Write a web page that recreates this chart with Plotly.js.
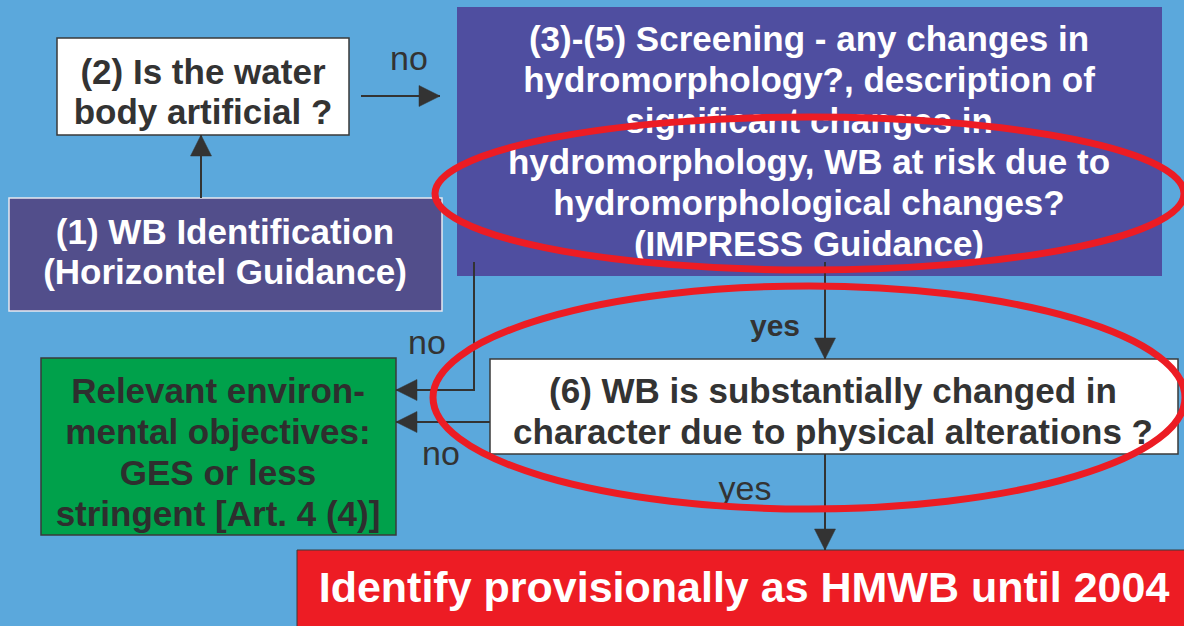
<!DOCTYPE html>
<html><head><meta charset="utf-8">
<script src="https://cdn.plot.ly/plotly-3.0.1.min.js"></script>
<style>html,body{margin:0;padding:0;background:#5BA8DC;overflow:hidden}#chart{width:1184px;height:626px}</style>
</head><body><div id="chart"></div>
<script>
// ---- content of the flowchart ----
const boxIds = ['q2', 'b1', 's35', 'q6', 'env', 'hmwb'];
const boxLines = [
  ['(2) Is the water', 'body artificial ?'],
  ['(1) WB Identification', '(Horizontel Guidance)'],
  ['(3)-(5) Screening - any changes in', 'hydromorphology?, description of', 'significant changes in',
   'hydromorphology, WB at risk due to', 'hydromorphological changes?', '(IMPRESS Guidance)'],
  ['(6) WB is substantially changed in', 'character due to physical alterations ?'],
  ['Relevant environ-', 'mental objectives:', 'GES or less', 'stringent [Art. 4 (4)]'],
  ['Identify provisionally as HMWB until 2004']
];
const edgeFrom = ['b1', 'q2', 's35', 's35', 'q6', 'q6'];
const edgeTo = ['q2', 's35', 'env', 'q6', 'env', 'hmwb'];
const edgeLabels = ['', 'no', 'no', 'yes', 'no', 'yes'];
const highlighted = ['s35', 'q6'];

// ---- layout geometry & styles (pixel space of the 1184x626 canvas) ----
const FONT = 'Liberation Sans, Arial, Helvetica, sans-serif';
const DARK = '#333333';
const boxGeom = {
  q2:   {x0: 57,  x1: 349,  y0: 38,  y1: 135, fill: '#FFFFFF', line: '#3A3A3A', lw: 1.5, txt: DARK,   size: 35, gap: 40, cx: 203, cy: 95},
  b1:   {x0: 9,   x1: 442,  y0: 198, y1: 311, fill: '#524E8B', line: '#E8E8F0', lw: 1.5, txt: '#FFFFFF', size: 35, gap: 40, cx: 225, cy: 255},
  s35:  {x0: 457, x1: 1162, y0: 7,   y1: 276, fill: '#4F4EA0', line: '#4F4EA0', lw: 0,   txt: '#FFFFFF', size: 35, gap: 41, cx: 809, cy: 145},
  q6:   {x0: 490, x1: 1178, y0: 359, y1: 454, fill: '#FFFFFF', line: '#3A3A3A', lw: 1.5, txt: DARK,   size: 35, gap: 41, cx: 833, cy: 415},
  env:  {x0: 41,  x1: 396,  y0: 358, y1: 535, fill: '#00A14B', line: '#3A3A3A', lw: 1.5, txt: '#2E2E2E', size: 35, gap: 41, cx: 218, cy: 456},
  hmwb: {x0: 297, x1: 1190, y0: 550, y1: 632, fill: '#ED1C24', line: '#3A3A3A', lw: 1,   txt: '#FFFFFF', size: 43, gap: 46, cx: 744, cy: 591}
};
const edgeRoutes = [
  [[201, 198], [201, 135]],
  [[361, 96], [440, 96]],
  [[474, 262], [474, 390], [396, 390]],
  [[825, 262], [825, 359]],
  [[490, 422], [396, 422]],
  [[825, 454], [825, 550]]
];
const edgeLabelPos = [null, [409, 61, false], [427, 345, false], [775, 328, true], [441, 456, false], [745, 491, false]];
const ellipseGeom = {
  s35: {x0: 435, x1: 1184, y0: 117, y1: 270},
  q6:  {x0: 433, x1: 1185, y0: 286, y1: 509}
};

const shapesBelow = [], shapesAbove = [], traces = [];

boxIds.forEach((id, i) => {
  const g = boxGeom[id];
  shapesBelow.push({type: 'rect', xref: 'x', yref: 'y', layer: 'below',
    x0: g.x0, x1: g.x1, y0: g.y0, y1: g.y1, fillcolor: g.fill,
    line: {color: g.line, width: g.lw}});
  const lines = boxLines[i];
  const n = lines.length;
  traces.push({
    type: 'scatter', mode: 'text', hoverinfo: 'skip', showlegend: false,
    x: lines.map(() => g.cx),
    y: lines.map((_, k) => g.cy + (k - (n - 1) / 2) * g.gap),
    text: lines.map(t => '<b>' + t + '</b>'),
    textposition: 'middle center',
    textfont: {family: FONT, size: g.size, color: g.txt}
  });
});

edgeRoutes.forEach((pts, i) => {
  let d = 'M ' + pts.map(p => p[0] + ',' + p[1]).join(' L ');
  shapesAbove.push({type: 'path', xref: 'x', yref: 'y', layer: 'above', path: d,
    line: {color: DARK, width: 2}});
  // arrowhead at the last point
  const [xa, ya] = pts[pts.length - 2], [xb, yb] = pts[pts.length - 1];
  const len = Math.hypot(xb - xa, yb - ya), ux = (xb - xa) / len, uy = (yb - ya) / len;
  const L = 21, W = 10.5;
  const bx = xb - ux * L, by = yb - uy * L;
  const p1 = [bx - uy * W, by + ux * W], p2 = [bx + uy * W, by - ux * W];
  shapesAbove.push({type: 'path', xref: 'x', yref: 'y', layer: 'above',
    path: `M ${xb},${yb} L ${p1[0]},${p1[1]} L ${p2[0]},${p2[1]} Z`,
    fillcolor: DARK, line: {color: DARK, width: 0.5}});
  const lp = edgeLabelPos[i];
  if (lp && edgeLabels[i]) {
    traces.push({
      type: 'scatter', mode: 'text', hoverinfo: 'skip', showlegend: false,
      x: [lp[0]], y: [lp[1]],
      text: [lp[2] ? '<b>' + edgeLabels[i] + '</b>' : edgeLabels[i]],
      textposition: 'middle center',
      textfont: {family: FONT, size: lp[2] ? 30 : 34, color: DARK}
    });
  }
});

highlighted.forEach(id => {
  const e = ellipseGeom[id];
  shapesAbove.push({type: 'circle', xref: 'x', yref: 'y', layer: 'above',
    x0: e.x0, x1: e.x1, y0: e.y0, y1: e.y1, fillcolor: 'rgba(0,0,0,0)',
    line: {color: '#EC1C24', width: 7}});
});

const layout = {
  width: 1184, height: 626,
  margin: {l: 0, r: 0, t: 0, b: 0, pad: 0},
  paper_bgcolor: '#5BA8DC', plot_bgcolor: '#5BA8DC',
  xaxis: {range: [0, 1184], visible: false, fixedrange: true},
  yaxis: {range: [626, 0], visible: false, fixedrange: true},
  shapes: shapesBelow.concat(shapesAbove),
  showlegend: false
};
Plotly.newPlot('chart', traces, layout, {displayModeBar: false, staticPlot: true});
</script>
</body></html>
